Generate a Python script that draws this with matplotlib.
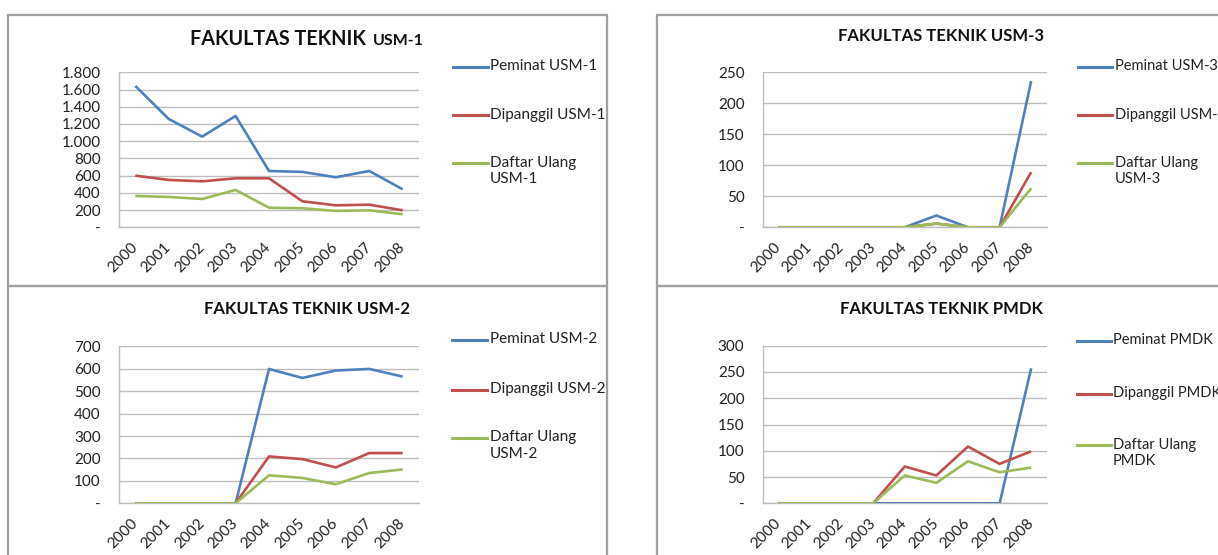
import matplotlib
matplotlib.use("Agg")
import matplotlib.pyplot as plt
from matplotlib.lines import Line2D
from matplotlib.patches import Rectangle
from matplotlib.ticker import FuncFormatter, MultipleLocator

plt.rcParams['font.family'] = ['Lato', 'DejaVu Sans']

W, H = 1218, 555
DPI = 100

years = ['2000', '2001', '2002', '2003', '2004', '2005', '2006', '2007', '2008']

# USM-1
peminat_usm1 = [1641, 1258, 1053, 1293, 654, 643, 581, 654, 441]
dipanggil_usm1 = [600, 550, 534, 569, 569, 302, 255, 263, 197]
daftar_usm1 = [364, 352, 329, 434, 228, 221, 190, 197, 151]

# USM-3
peminat_usm3 = [0, 0, 0, 0, 0, 19, 0, 0, 236]
dipanggil_usm3 = [0, 0, 0, 0, 0, 6, 0, 0, 89]
daftar_usm3 = [0, 0, 0, 0, 0, 6, 0, 0, 63]

# USM-2
peminat_usm2 = [0, 0, 0, 0, 599, 559, 592, 599, 565]
dipanggil_usm2 = [0, 0, 0, 0, 209, 197, 160, 224, 224]
daftar_usm2 = [0, 0, 0, 0, 125, 113, 85, 135, 151]

# PMDK
peminat_pmdk = [0, 0, 0, 0, 0, 0, 0, 0, 257]
dipanggil_pmdk = [0, 0, 0, 0, 70, 53, 108, 75, 99]
daftar_pmdk = [0, 0, 0, 0, 53, 39, 80, 59, 68]

BLUE, RED, GREEN = '#4F81BD', '#C0504D', '#9BBB59'
GRID = '#bdbdbd'
FRAME = '#a0a0a0'
TXT = '#222222'

fig = plt.figure(figsize=(W / DPI, H / DPI), dpi=DPI)


def fx(x):
    return x / W


def fy(y):
    return 1 - y / H


def thousands(v, pos):
    if v == 0:
        return '-'
    return f'{int(v):,}'.replace(',', '.')


def make_panel(rect, series, labels, ymax, ystep, title_parts, title_pos,
               legend_x, legend_rows, legend_fs):
    l, t, r, b = rect
    ax = fig.add_axes([fx(l), fy(b), fx(r - l), (b - t) / H])
    colors = [BLUE, RED, GREEN]
    for vals, c in zip(series, colors):
        ax.plot(range(len(years)), vals, color=c, lw=1.9, solid_capstyle='butt',
                solid_joinstyle='round', zorder=3)
    ax.set_xlim(-0.5, len(years) - 0.5)
    ax.set_ylim(0, ymax)
    ax.yaxis.set_major_locator(MultipleLocator(ystep))
    ax.yaxis.set_major_formatter(FuncFormatter(thousands))
    ax.grid(axis='y', color=GRID, lw=1.0, zorder=0)
    for s in ['top', 'right']:
        ax.spines[s].set_visible(False)
    for s in ['left', 'bottom']:
        ax.spines[s].set_color(GRID)
        ax.spines[s].set_linewidth(1.0)
    ax.set_xticks(range(len(years)))
    ax.set_xticklabels(years, rotation=45, ha='right', va='center',
                       rotation_mode='anchor', fontsize=11, color=TXT)
    ax.tick_params(axis='x', length=0, pad=13)
    ax.tick_params(axis='y', length=0, pad=13, labelsize=11, labelcolor=TXT)
    # title
    tx, ty = title_pos
    if len(title_parts) == 1:
        fig.text(fx(tx), fy(ty), title_parts[0], ha='center', va='center',
                 fontsize=12, fontweight='bold', color='#111111')
    else:
        main, small = title_parts
        fig.text(fx(tx), fy(ty), main, ha='left', va='baseline',
                 fontsize=14.2, fontweight='bold', color='#111111')
        fig.text(fx(tx + 183), fy(ty), small, ha='left', va='baseline',
                 fontsize=11.5, fontweight='bold', color='#111111')
    # legend
    lx0, lx1, tx0 = legend_x
    for lab, c, yrow in zip(labels, colors, legend_rows):
        fig.add_artist(Line2D([fx(lx0), fx(lx1)], [fy(yrow), fy(yrow)],
                              color=c, lw=2.2, transform=fig.transFigure))
        fig.text(fx(tx0), fy(yrow - 7.5), lab, ha='left', va='top',
                 fontsize=legend_fs, color=TXT, linespacing=1.25)
    return ax


# frames
for (l, t, r, b) in [(8, 15, 607, 286), (657, 15, 1230, 286),
                     (8, 286, 607, 570), (657, 286, 1230, 570)]:
    fig.add_artist(Rectangle((fx(l), fy(b)), fx(r - l), (b - t) / H,
                             fill=False, edgecolor=FRAME, lw=1.6,
                             transform=fig.transFigure, clip_on=False))

make_panel((118.6, 72.3, 419.4, 227.3),
           [peminat_usm1, dipanggil_usm1, daftar_usm1],
           ['Peminat USM-1', 'Dipanggil USM-1', 'Daftar Ulang\nUSM-1'],
           1800, 200, ['FAKULTAS TEKNIK', 'USM-1'], (190, 45),
           (453, 488, 490), [67, 115, 163], 11)

make_panel((762.5, 72.3, 1047, 227.3),
           [peminat_usm3, dipanggil_usm3, daftar_usm3],
           ['Peminat USM-3', 'Dipanggil USM-3', 'Daftar Ulang\nUSM-3'],
           250, 50, ['FAKULTAS TEKNIK USM-3'], (941, 36),
           (1078, 1112, 1115), [67, 115, 163], 10.5)

make_panel((118.6, 346.3, 419.4, 503.3),
           [peminat_usm2, dipanggil_usm2, daftar_usm2],
           ['Peminat USM-2', 'Dipanggil USM-2', 'Daftar Ulang\nUSM-2'],
           700, 100, ['FAKULTAS TEKNIK USM-2'], (307, 309),
           (452, 487, 490), [339.5, 389.5, 438], 11)

make_panel((762.5, 345.7, 1047, 503.3),
           [peminat_pmdk, dipanggil_pmdk, daftar_pmdk],
           ['Peminat PMDK', 'Dipanggil PMDK', 'Daftar Ulang\nPMDK'],
           300, 50, ['FAKULTAS TEKNIK PMDK'], (941, 309),
           (1077, 1111, 1113), [341, 393.5, 445], 10.5)

fig.savefig('out.png', dpi=DPI)
